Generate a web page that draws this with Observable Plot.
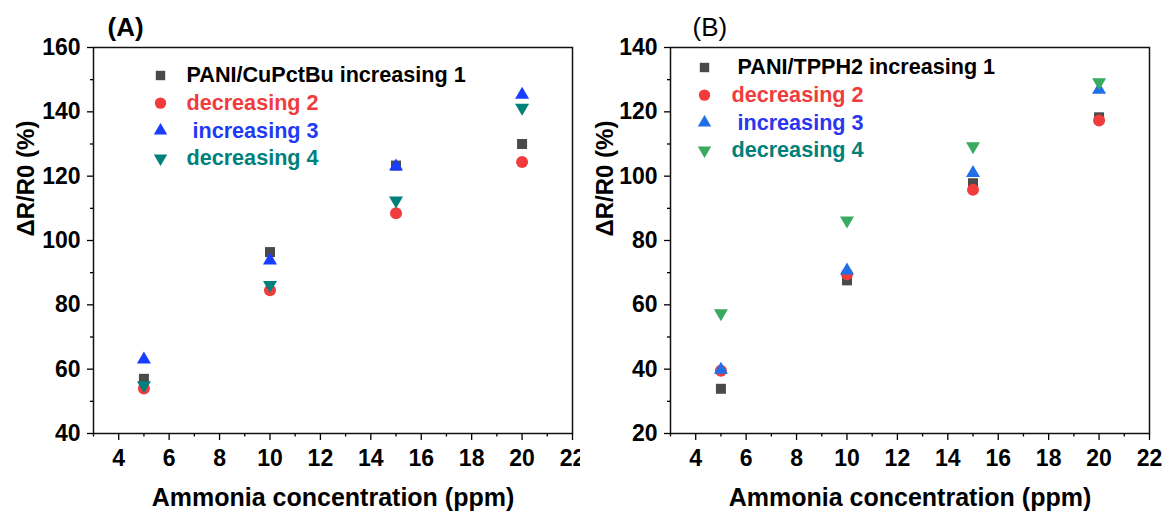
<!DOCTYPE html>
<html>
<head>
<meta charset="utf-8">
<script src="https://cdn.jsdelivr.net/npm/d3@7"></script>
<script src="https://cdn.jsdelivr.net/npm/@observablehq/plot@0.6"></script>
<style>
  html, body { margin: 0; padding: 0; background: #fff; }
  #wrap { display: flex; width: 1164px; height: 511px; }
  #wrap svg { display: block; }
</style>
</head>
<body>
<div id="wrap"></div>
<script>
// ---------- data ----------
const concentration = [5, 10, 15, 20];
const xMajor = [4, 6, 8, 10, 12, 14, 16, 18, 20, 22];
const xMinor = [3, 5, 7, 9, 11, 13, 15, 17, 19, 21];

// Panel A: PANI/CuPctBu
const aIncreasing1 = [57, 96.4, 123.3, 130];
const aDecreasing2 = [54, 84.5, 108.5, 124.4];
const aIncreasing3 = [63, 93.8, 123, 145.3];
const aDecreasing4 = [55, 86.2, 112.4, 141.3];
const aYMajor = [40, 60, 80, 100, 120, 140, 160];
const aYMinor = [50, 70, 90, 110, 130, 150];
const aLegend = ["PANI/CuPctBu increasing 1", "decreasing 2", "\u00a0increasing 3", "decreasing 4"];

// Panel B: PANI/TPPH2
const bIncreasing1 = [33.9, 67.6, 97.8, 118.3];
const bDecreasing2 = [39.5, 69.5, 95.8, 117.3];
const bIncreasing3 = [39.8, 70.7, 101, 126.9];
const bDecreasing4 = [57.4, 86.2, 109.3, 129.2];
const bYMajor = [20, 40, 60, 80, 100, 120, 140];
const bYMinor = [30, 50, 70, 90, 110, 130];
const bLegend = ["\u00a0PANI/TPPH2 increasing 1", "decreasing 2", "\u00a0increasing 3", "decreasing 4"];

const xTitle = "Ammonia concentration (ppm)";
const yTitle = "ΔR/R0 (%)";

// ---------- styles ----------
const FONT = '"Liberation Sans", Arial, Helvetica, sans-serif';
const rOf = (size) => Math.sqrt(size / Math.PI);
const symSquare = { draw(c, size) { const h = rOf(size); c.moveTo(-h, -h); c.lineTo(h, -h); c.lineTo(h, h); c.lineTo(-h, h); c.closePath(); } };
const symCircle = { draw(c, size) { const r = rOf(size); c.moveTo(r, 0); c.arc(0, 0, r, 0, 2 * Math.PI); c.closePath(); } };
const symUp = { draw(c, size) { const r = rOf(size); c.moveTo(0, -r * 1.14); c.lineTo(r, r * 0.57); c.lineTo(-r, r * 0.57); c.closePath(); } };
const symDown = { draw(c, size) { const r = rOf(size); c.moveTo(0, r * 1.14); c.lineTo(r, -r * 0.57); c.lineTo(-r, -r * 0.57); c.closePath(); } };

const symbols = [symSquare, symCircle, symUp, symDown];
const sizes = [5, 6, 7, 7];

function panel(cfg) {
  const seriesMarks = cfg.series.map((vals, i) =>
    Plot.dot(concentration.map((x, j) => ({ x, y: vals[j] })), {
      x: "x", y: "y", symbol: symbols[i], r: sizes[i], fill: cfg.markColors[i], stroke: "none"
    })
  );
  const legendMarks = cfg.legend.flatMap((label, i) => [
    Plot.dot([label], {
      frameAnchor: "top-left", dx: cfg.legMarkDx, dy: cfg.legDy + i * cfg.legStep,
      symbol: symbols[i], r: sizes[i] - 0.3, fill: cfg.markColors[i], stroke: "none"
    }),
    Plot.text([label], {
      frameAnchor: "top-left", dx: cfg.legTextDx, dy: cfg.legDy + i * cfg.legStep,
      text: (d) => d, textAnchor: "start", lineAnchor: "middle",
      fill: cfg.textColors[i], fontSize: 21.6, fontWeight: "bold", fontFamily: FONT
    })
  ]);
  return Plot.plot({
    width: cfg.width, height: 511,
    marginLeft: cfg.ml, marginRight: cfg.mr, marginTop: 47, marginBottom: 78,
    style: { fontFamily: FONT, color: "#000", background: "#fff", overflow: "visible" },
    x: { domain: [3, 22], label: null },
    y: { domain: cfg.yDomain, label: null },
    marks: [
      Plot.frame({ stroke: "#111", strokeWidth: 1.5 }),
      Plot.axisX({ ticks: xMajor, tickSize: 7, tickPadding: 9, fontSize: 23, fontWeight: "bold", strokeWidth: 1.3, label: null, tickFormat: (d) => String(d) }),
      Plot.axisX({ ticks: xMinor, tickSize: 3.5, text: null, strokeWidth: 1.3, label: null }),
      Plot.axisY({ ticks: cfg.yMajor, tickSize: 6, tickPadding: 7, fontSize: 23, fontWeight: "bold", strokeWidth: 1.3, label: null, tickFormat: (d) => String(d) }),
      Plot.axisY({ ticks: cfg.yMinor, tickSize: 3, text: null, strokeWidth: 1.3, label: null }),
      Plot.text([xTitle], { frameAnchor: "bottom", dy: 72, text: (d) => d, fontSize: 25, fontWeight: "bold", fill: "#000", fontFamily: FONT }),
      Plot.text([yTitle], { frameAnchor: "left", dx: cfg.yTitleDx, dy: -4, rotate: -90, text: (d) => d, fontSize: 24, fontWeight: "bold", fill: "#000", fontFamily: FONT }),
      Plot.text([cfg.tag], { frameAnchor: "top-left", dx: cfg.tagDx, dy: -12, lineAnchor: "bottom", textAnchor: "start", text: (d) => d, fontSize: 26, fontWeight: cfg.tagWeight, fill: "#000", fontFamily: FONT }),
      ...legendMarks,
      ...seriesMarks
    ]
  });
}

const wrap = document.getElementById("wrap");
wrap.append(panel({
  width: 580, ml: 93, mr: 8,
  yDomain: [40, 160], yMajor: aYMajor, yMinor: aYMinor,
  series: [aIncreasing1, aDecreasing2, aIncreasing3, aDecreasing4],
  markColors: ["#4a4a4a", "#f03c3c", "#1a3cff", "#00807a"],
  textColors: ["#000", "#f03c3c", "#1f3af5", "#00807a"],
  legend: aLegend, legMarkDx: 67, legTextDx: 93, legDy: 28, legStep: 27.6,
  yTitleDx: -67, tag: "(A)", tagDx: 14, tagWeight: "bold"
}));
wrap.append(panel({
  width: 584, ml: 90, mr: 15,
  yDomain: [20, 140], yMajor: bYMajor, yMinor: bYMinor,
  series: [bIncreasing1, bDecreasing2, bIncreasing3, bDecreasing4],
  markColors: ["#4a4a4a", "#f03c3c", "#1f6fe8", "#3aaa60"],
  textColors: ["#000", "#f03c3c", "#2a35ee", "#00807a"],
  legend: bLegend, legMarkDx: 34, legTextDx: 61, legDy: 20, legStep: 27.6,
  yTitleDx: -65, tag: "(B)", tagDx: 22, tagWeight: "normal"
}));
</script>
</body>
</html>
